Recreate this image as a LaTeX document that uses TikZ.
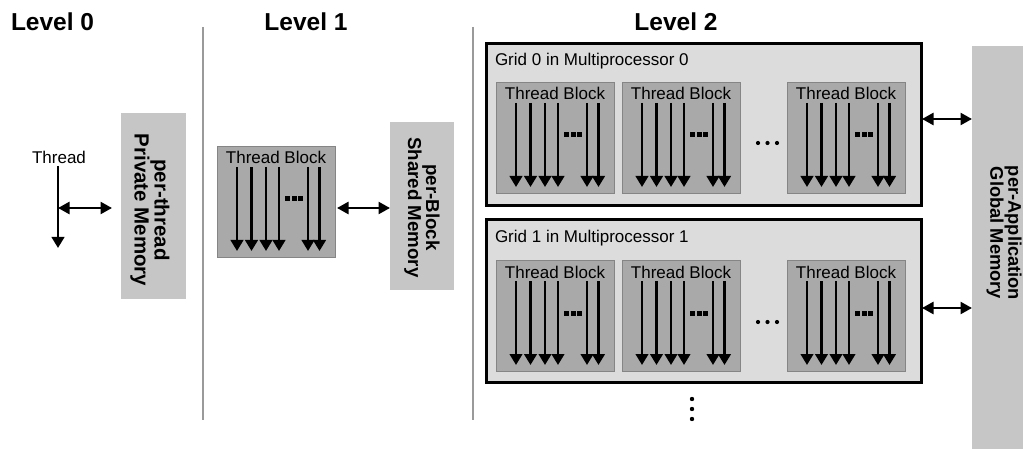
\documentclass[tikz,border=0pt]{standalone}
\usepackage{fontspec}
\setmainfont{Liberation Sans}
\usetikzlibrary{arrows.meta}

\definecolor{memgray}{HTML}{C6C6C6}
\definecolor{blkgray}{HTML}{A9A9A9}
\definecolor{blkedge}{HTML}{858585}
\definecolor{gridgray}{HTML}{DCDCDC}
\definecolor{sepgray}{HTML}{9A9A9A}

\tikzset{
  every node/.style={inner sep=0pt, outer sep=0pt},
  level/.style={font=\fontsize{24.5}{28}\selectfont\bfseries, anchor=base},
  sepline/.style={draw=sepgray, line width=1.8pt},
  mem/.style={fill=memgray, draw=none, anchor=north west},
  memtext/.style={align=center, rotate=-90},
  blk/.style={fill=blkgray, draw=blkedge, line width=0.8pt, anchor=north west,
              minimum width=118pt, minimum height=111pt},
  gridbox/.style={fill=gridgray, draw=black, line width=3pt, anchor=north west,
              minimum width=435pt, minimum height=162pt},
  lbl/.style={font=\fontsize{17}{20}\selectfont},
  thr/.style={line width=2.6pt, -{Triangle[length=11pt,width=12.5pt]}},
  link/.style={line width=2.4pt, {Triangle[length=11.5pt,width=12pt]}-{Triangle[length=11.5pt,width=12pt]}},
  tblock/.pic={
    \node[blk] (-box) at (0,0) {};
    \node[lbl, anchor=base] (-title) at (59,18) {Thread Block};
    \foreach \dx in {20,34.5,49,62,91,102.5}
      \draw[thr] (\dx,21) -- (\dx,105);
    \foreach \dx in {70.5,77,83.5}
      \fill (\dx-2.5,50.5) rectangle (\dx+2.5,55.5);
  },
}

\begin{document}
\begin{tikzpicture}[x=1pt, y=-1pt]
\useasboundingbox (0,0) rectangle (1023,449);

% level headings and separators
\node[level, anchor=base west] (l0) at (11,31) {Level 0};
\node[level] (l1) at (306,31) {Level 1};
\node[level] (l2) at (676,31) {Level 2};
\coordinate (s1t) at (203,27); \coordinate (s1b) at (203,420);
\coordinate (s2t) at (473,27); \coordinate (s2b) at (473,420);
\draw[sepline] (s1t) -- (s1b);
\draw[sepline] (s2t) -- (s2b);

% level 0: a single thread and its private memory
\node[lbl, anchor=base] (thread) at (59,164) {Thread};
\coordinate (t0) at (58,166);
\coordinate (t1) at (58,248);
\coordinate (tm) at (58,208);
\draw[thr] (t0) -- (t1);
\node[mem, minimum width=65pt, minimum height=186pt] (pm) at (121,113) {};
\node[memtext, font=\fontsize{20.5}{20}\selectfont\bfseries] (pmt) at (150,210)
  {per-thread\\Private Memory};
\draw[link, shorten >=9pt] (tm) -- (pm.west |- tm);

% level 1: a thread block and its shared memory
\pic (b) at (217,146) {tblock};
\node[mem, minimum width=64pt, minimum height=168pt] (sm) at (390,122) {};
\node[memtext, font=\fontsize{18.7}{18}\selectfont\bfseries] (smt) at (422,207.5)
  {per-Block\\Shared Memory};
\coordinate (y1) at (0,208);
\draw[link, shorten <=2pt] (b-box.east |- y1) -- (sm.west |- y1);

% level 2: grids of thread blocks and global memory
\node[mem, minimum width=55pt, minimum height=404pt] (gm) at (972,46) {};
\node[memtext, font=\fontsize{18.3}{18}\selectfont\bfseries] (gmt) at (1004,233)
  {per-Application\\Global Memory};

\node[gridbox] (g0) at (486,44) {};
\node[lbl, anchor=base west] (g0t) at (495,66) {Grid 0 in Multiprocessor 0};
\pic (g0a) at (496,82) {tblock};
\pic (g0b) at (622,82) {tblock};
\pic (g0c) at (787,82) {tblock};
\foreach \dx in {758,767.5,777} \fill (\dx,143) circle (2.1pt);

\node[gridbox] (g1) at (486,220) {};
\node[lbl, anchor=base west] (g1t) at (495,243) {Grid 1 in Multiprocessor 1};
\pic (g1a) at (496,260) {tblock};
\pic (g1b) at (622,260) {tblock};
\pic (g1c) at (787,260) {tblock};
\foreach \dx in {758,767.5,777} \fill (\dx,322) circle (2.1pt);

\coordinate (y2) at (0,119);
\coordinate (y3) at (0,308);
\draw[link, shorten <=1pt] (g0.east |- y2) -- (gm.west |- y2);
\draw[link, shorten <=1pt] (g1.east |- y3) -- (gm.west |- y3);

% more grids follow
\foreach \dy in {399,409,419} \fill (692,\dy) circle (2.2pt);
\end{tikzpicture}
\end{document}
